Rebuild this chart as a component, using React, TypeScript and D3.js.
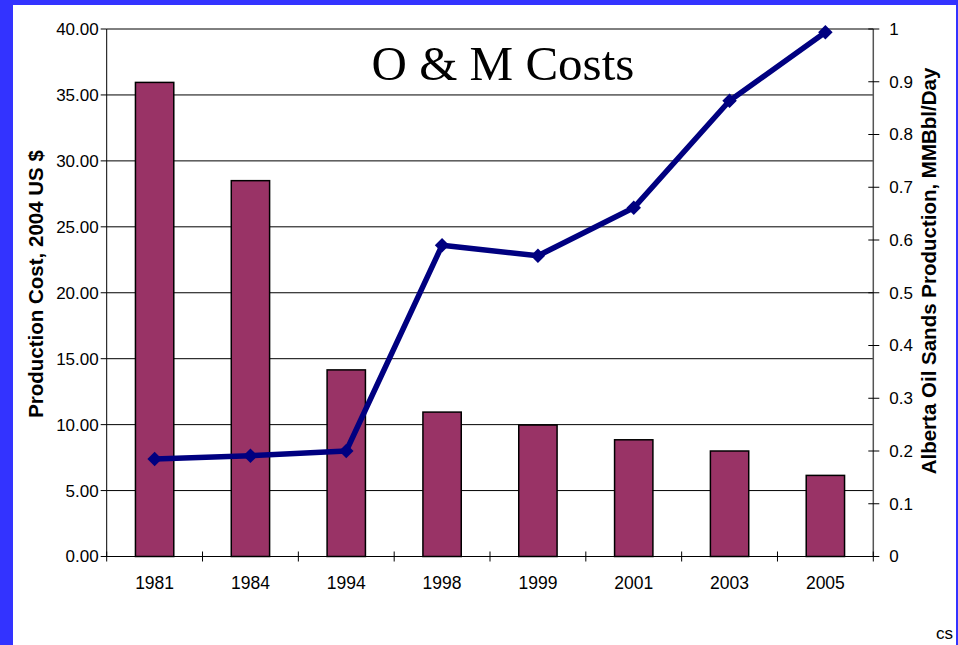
import React from "react";
import * as d3 from "d3";

const categories = ["1981", "1984", "1994", "1998", "1999", "2001", "2003", "2005"];
const costValues = [35.95, 28.5, 14.15, 10.95, 9.97, 8.85, 8.0, 6.15];
const productionValues = [0.185, 0.191, 0.2, 0.59, 0.57, 0.661, 0.864, 0.994];
const leftTicks = [0, 5, 10, 15, 20, 25, 30, 35, 40];
const rightTicks = [0, 0.1, 0.2, 0.3, 0.4, 0.5, 0.6, 0.7, 0.8, 0.9, 1];

const W = 958;
const H = 645;
const plotL = 106.7;
const plotR = 873.3;
const plotT = 29;
const plotB = 556.5;

export default function App() {
  const x = d3.scaleBand<string>().domain(categories).range([plotL, plotR]).paddingInner(0).paddingOuter(0);
  const yL = d3.scaleLinear().domain([0, 40]).range([plotB, plotT]);
  const yR = d3.scaleLinear().domain([0, 1]).range([plotB, plotT]);
  const bw = x.bandwidth() * 0.4;
  const cx = (c: string) => (x(c) as number) + x.bandwidth() / 2;
  const line = d3
    .line<number>()
    .x((_, i) => cx(categories[i]))
    .y((d) => yR(d));
  const diamond = d3.symbol().type(d3.symbolSquare).size(105)();
  const sans = "'Liberation Sans', Arial, sans-serif";

  return (
    <svg
      width={W}
      height={H}
      style={{ position: "absolute", left: 0, top: 0, display: "block", background: "#fff" }}
    >
      <rect x={0} y={0} width={W} height={5} fill="#3333ff" />
      <rect x={0} y={0} width={13} height={H} fill="#3333ff" />
      <rect x={956} y={0} width={2} height={H} fill="#3333ff" />

      {/* gridlines */}
      {leftTicks.map((t) => (
        <line key={"g" + t} x1={plotL} x2={plotR} y1={yL(t)} y2={yL(t)} stroke="#000" strokeWidth={1} />
      ))}

      {/* bars */}
      {categories.map((c, i) => (
        <rect
          key={"b" + c}
          x={cx(c) - bw / 2}
          y={yL(costValues[i])}
          width={bw}
          height={plotB - yL(costValues[i])}
          fill="#993366"
          stroke="#000"
          strokeWidth={1.5}
        />
      ))}

      {/* left axis */}
      <line x1={plotL} x2={plotL} y1={plotT} y2={plotB} stroke="#000" strokeWidth={1} />
      {leftTicks.map((t) => (
        <g key={"l" + t}>
          <line x1={plotL - 6} x2={plotL} y1={yL(t)} y2={yL(t)} stroke="#000" />
          <text x={plotL - 8} y={yL(t)} dy="0.35em" textAnchor="end" fontFamily={sans} fontSize={17} fill="#000">
            {d3.format(".2f")(t)}
          </text>
        </g>
      ))}

      {/* right axis */}
      <line x1={plotR} x2={plotR} y1={plotT} y2={plotB} stroke="#555" strokeWidth={1.5} />
      {rightTicks.map((t) => (
        <g key={"r" + t}>
          <line x1={plotR - 5} x2={plotR + 6} y1={yR(t)} y2={yR(t)} stroke="#000" />
          <text x={plotR + 16} y={yR(t)} dy="0.35em" textAnchor="start" fontFamily={sans} fontSize={17} fill="#000">
            {t === 0 || t === 1 ? String(t) : d3.format(".1f")(t)}
          </text>
        </g>
      ))}

      {/* bottom axis */}
      <line x1={plotL} x2={plotR} y1={plotB} y2={plotB} stroke="#000" strokeWidth={1} />
      {categories.map((c) => (
        <line key={"t" + c} x1={x(c) as number} x2={x(c) as number} y1={plotB - 5} y2={plotB + 5} stroke="#000" />
      ))}
      <line x1={plotR} x2={plotR} y1={plotB - 5} y2={plotB + 5} stroke="#000" />
      {categories.map((c) => (
        <text key={"c" + c} x={cx(c)} y={589} textAnchor="middle" fontFamily={sans} fontSize={17.5} fill="#000">
          {c}
        </text>
      ))}

      {/* line series */}
      <path d={line(productionValues) || ""} fill="none" stroke="#000080" strokeWidth={5.5} strokeLinejoin="round" />
      {productionValues.map((v, i) => (
        <path
          key={"m" + i}
          d={diamond || ""}
          transform={`translate(${cx(categories[i])},${yR(v)}) rotate(45)`}
          fill="#000080"
        />
      ))}

      {/* titles */}
      <text x={503} y={80} textAnchor="middle" fontFamily="'Liberation Serif', 'Times New Roman', serif" fontSize={49} fill="#000">
        O &amp; M Costs
      </text>
      <text
        transform={`translate(43,284) rotate(-90)`}
        textAnchor="middle"
        fontFamily={sans}
        fontWeight="bold"
        fontSize={20.5}
        fill="#000"
      >
        Production Cost, 2004 US $
      </text>
      <text
        transform={`translate(936,271) rotate(-90)`}
        textAnchor="middle"
        fontFamily={sans}
        fontWeight="bold"
        fontSize={20.5}
        fill="#000"
      >
        Alberta Oil Sands Production, MMBbl/Day
      </text>
      <text x={936} y={639} fontFamily={sans} fontSize={17} fill="#000">
        cs
      </text>
    </svg>
  );
}
